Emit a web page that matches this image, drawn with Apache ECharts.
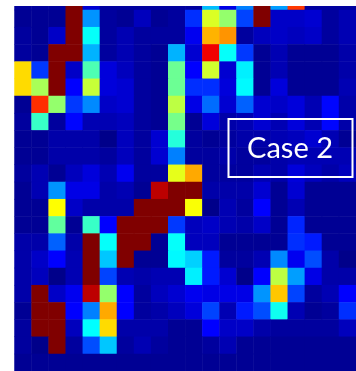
<!DOCTYPE html>
<html><head><meta charset="utf-8">
<style>html,body{margin:0;padding:0;background:#fff}#c{width:356px;height:371px}</style>
<script src="https://cdn.jsdelivr.net/npm/echarts@6/dist/echarts.min.js"></script>
</head><body><div id="c"></div>
<script>
const columns = ['0','1','2','3','4','5','6','7','8','9','10','11','12','13','14','15','16','17','18','19'];
const rowNames = ['0','1','2','3','4','5','6','7','8','9','10','11','12','13','14','15','16','17','18','19','20','21'];
const row0  = [.03,.03,.03,1,.08,.03,.03,.03,.03,.03,.03,.31,.1,.25,1,.28,.82,.03,.03,.03];
const row1  = [.02,.02,.02,1,.27,.03,.02,.06,.02,.03,.17,.59,.52,.19,1,.07,.07,.08,.03,.05];
const row2  = [.03,.02,.07,1,.38,.03,.05,.03,.03,.03,.11,.7,.73,.03,.06,.07,.06,.07,.03,.05];
const row3  = [.03,.02,1,1,.3,.03,.05,.03,.02,.3,.08,.89,.38,.18,.02,.05,.02,.02,.02,.04];
const row4  = [.66,.18,1,.07,.45,.09,.06,.03,.02,.48,.125,.58,.08,.36,.02,.05,.02,.02,.02,.04];
const row5  = [.66,.54,1,.125,.57,.09,.08,.03,.02,.48,.17,.17,.09,.37,.02,.09,.02,.02,.02,.05];
const row6  = [.02,.83,.52,.18,.26,.07,.08,.03,.02,.56,.1,.23,.08,.22,.08,.07,.09,.05,.13,.04];
const row7  = [.03,.43,.03,.13,.05,.05,.06,.03,.02,.49,.02,.09,.04,.05,.08,.05,.09,.05,.13,.04];
const row8  = [.02,.02,.04,.04,.04,.01,.06,.03,.08,.41,.03,.02,.03,.04,.04,.05,.06,.08,.05,.02];
const row9  = [.02,.02,.04,.04,.04,.03,.06,.03,.08,.25,.03,.03,.04,.03,.03,.04,.05,.05,.05,.05];
const row10 = [.03,.05,.02,.06,.09,.05,.11,.03,.03,.6,.71,.03,.03,.03,.05,.04,.09,.06,.04,.06];
const row11 = [.02,.05,.27,.1,.1,.04,.05,.02,.94,1,1,.04,.04,.04,.08,.02,.08,.02,.02,.02];
const row12 = [.02,.02,.625,.07,.04,.04,.04,1,1,1,.62,.01,.05,.03,.125,.02,.05,.02,.02,.02];
const row13 = [.02,.02,.47,.02,.43,.125,1,1,1,.18,.06,.07,.05,.04,.07,.02,.16,.02,.02,.02];
const row14 = [.04,.04,.22,.04,1,.38,1,1,.02,.38,.06,.06,.02,.02,.02,.02,.17,.15,.02,.02];
const row15 = [.04,.07,.125,.05,1,.32,1,.02,.02,.37,.33,.15,.03,.03,.05,.26,.11,.2,.04,.01];
const row16 = [.04,.06,.01,.05,1,.19,.05,.04,.05,.05,.36,.15,.08,.01,.125,.56,.28,.1,.04,.04];
const row17 = [.04,1,.07,.11,.94,.52,.125,.03,.06,.08,.11,.1,.1,.1,.27,.68,.19,.03,.05,.125];
const row18 = [.02,1,1,.125,.25,.71,.125,.03,.04,.06,.09,.19,.05,.15,.2,.39,.05,.02,.03,.17];
const row19 = [.03,1,1,.06,.375,.66,.04,.04,.04,.02,.02,.125,.07,.07,.04,.03,.03,.03,.03,.06];
const row20 = [.03,.01,1,.03,.2,.32,.03,.05,.03,.02,.02,.03,.05,.02,.02,.02,.02,.02,.02,.02];
const row21 = [.02,.02,.02,.02,.02,.02,.02,.02,.02,.02,.02,.02,.02,.02,.02,.02,.02,.02,.02,.02];
const rows = [row0,row1,row2,row3,row4,row5,row6,row7,row8,row9,row10,row11,row12,row13,row14,row15,row16,row17,row18,row19,row20,row21];
const caseLabel = 'Case 2';
const jet = ['#000080','#0000ff','#0080ff','#00ffff','#80ff80','#ffff00','#ff8000','#ff0000','#800000'];

const cells = [];
rows.forEach((r, y) => r.forEach((v, x) => cells.push([x, y, v])));

const chart = echarts.init(document.getElementById('c'), null, {renderer:'canvas'});
chart.setOption({
  animation:false,
  backgroundColor:'#fff',
  grid:{left:14.5,top:-7.2,width:341.6,height:378.4,containLabel:false,outerBoundsMode:'none'},
  xAxis:{type:'category',data:columns,show:false},
  yAxis:{type:'category',data:rowNames,inverse:true,show:false},
  visualMap:{show:false,min:0,max:1,inRange:{color:jet}},
  series:[{type:'heatmap',data:cells,itemStyle:{borderWidth:0},emphasis:{disabled:true}}],
  graphic:[
    {type:'rect',z:100,shape:{x:0,y:0,width:356,height:6},style:{fill:'#fff'}},
    {type:'rect',z:101,shape:{x:228.5,y:119,width:124,height:58},style:{fill:'transparent',stroke:'#fff',lineWidth:2}},
    {type:'text',z:102,x:290,y:149,style:{text:caseLabel,fill:'#fff',font:'29px Lato',align:'center',verticalAlign:'middle'}}
  ]
});
</script></body></html>
